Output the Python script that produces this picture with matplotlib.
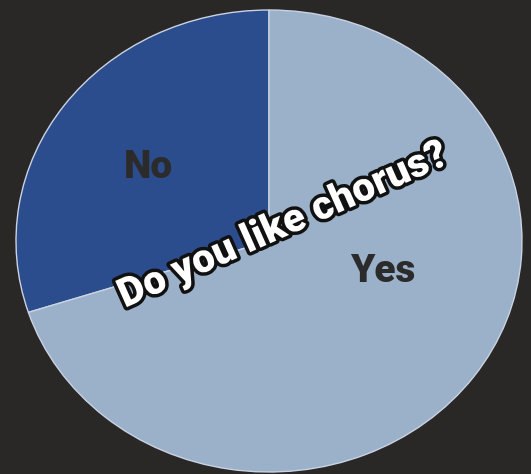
import matplotlib
matplotlib.use("Agg")
import matplotlib.pyplot as plt
import matplotlib.patheffects as pe

# survey answers (percent)
answers = ["No", "Yes"]
shares = [30, 70]
colors = ["#2c4d8d", "#9bb0c9"]
title = "Do you like chorus?"

W, H = 531, 474
fig = plt.figure(figsize=(W / 100, H / 100), dpi=100)
fig.patch.set_facecolor("#2a2727")
ax = fig.add_axes([0, 0, 1, 1])
ax.set_facecolor("#2a2727")

wedges, _ = ax.pie(shares, colors=colors, startangle=90, counterclock=True,
                   wedgeprops=dict(edgecolor="#c9d3e2", linewidth=1.0))
# the scanned circle is a bit squashed, so drop the equal aspect
ax.set_aspect("auto")
cx, cy, rx, ry = 269, 241, 253, 231
ax.set_xlim(-cx / rx, (W - cx) / rx)
ax.set_ylim(-(H - cy) / ry, cy / ry)
ax.axis("off")


def px(x, y):
    return (x - cx) / rx, (cy - y) / ry


label_pos = {"No": (148, 168), "Yes": (383, 272)}
for name in answers:
    x, y = px(*label_pos[name])
    ax.text(x, y, name, ha="center", va="center", fontsize=28,
            fontweight="black", color="#2b2b2b", family=["Roboto", "DejaVu Sans"])

tx, ty = px(283, 225)
ax.text(tx, ty, title, ha="center", va="center", rotation=24,
        rotation_mode="anchor", fontsize=29, fontweight="black",
        color="white", family=["Roboto", "DejaVu Sans"],
        path_effects=[pe.withStroke(linewidth=5, foreground="#111111")])

fig.savefig("out.png", dpi=100, facecolor=fig.get_facecolor())
